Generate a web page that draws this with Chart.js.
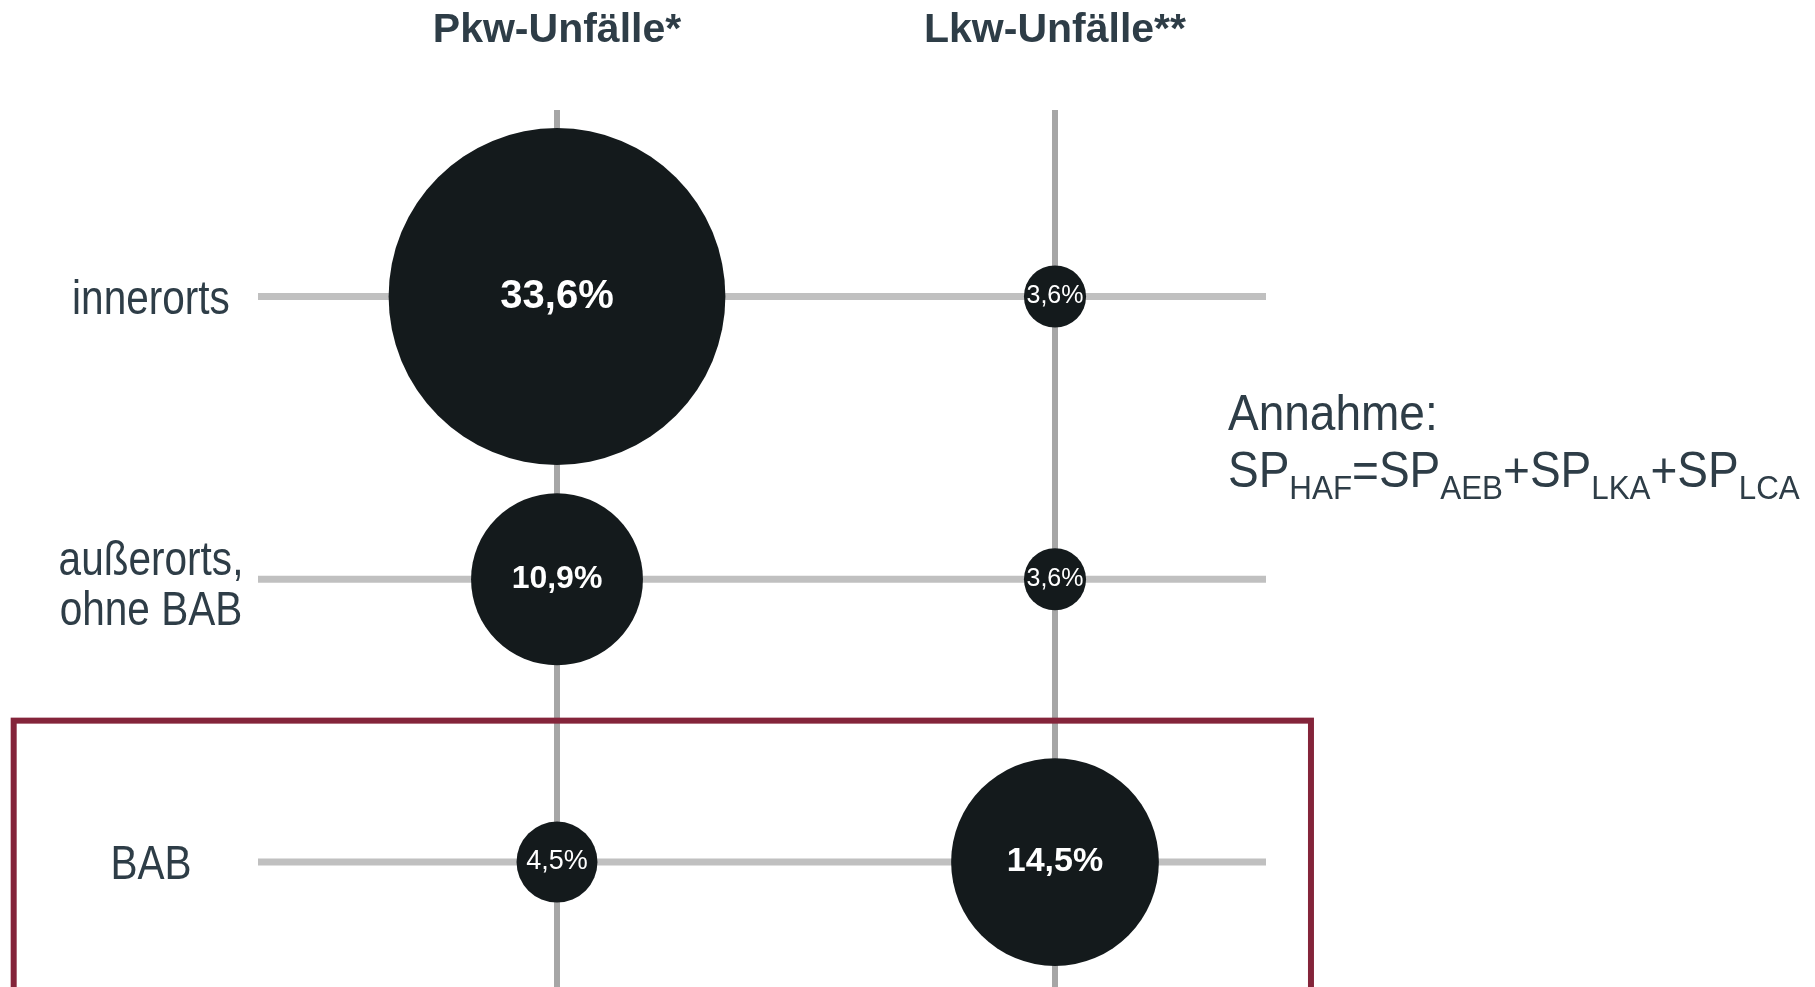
<!DOCTYPE html>
<html>
<head>
<meta charset="utf-8">
<script src="https://cdn.jsdelivr.net/npm/chart.js@4.4.1/dist/chart.umd.min.js"></script>
<style>
  html, body { margin: 0; padding: 0; background: #fff; }
  .wrap { width: 1815px; height: 987px; position: relative; }
</style>
</head>
<body>
<div class="wrap"><canvas id="bubbleChart"></canvas></div>
<script>
const columns = ['Pkw-Unfälle*', 'Lkw-Unfälle**'];
const rows = [['innerorts'], ['außerorts,', 'ohne BAB'], ['BAB']];
const pkwShares = [33.6, 10.9, 4.5];
const lkwShares = [3.6, 3.6, 14.5];
const noteTitle = 'Annahme:';
const noteFormula = [['SP', 'HAF'], ['=SP', 'AEB'], ['+SP', 'LKA'], ['+SP', 'LCA']];

const textColor = '#2e3d47';
const bubbleColor = '#141a1c';
const fontFamily = '"Liberation Sans", Arial, Helvetica, sans-serif';

// bubble size grows slower than the share, like in the original slide
const radiusFor = v => 74 * Math.pow(v, 0.35) - 84.8;
const pct = v => v.toFixed(1).replace('.', ',') + '%';

const points = [];
[pkwShares, lkwShares].forEach((shares, col) => {
    shares.forEach((v, row) => points.push({ x: col, y: row, r: radiusFor(v), v: v }));
});

function drawText(ctx, str, x, y, size, opts) {
    opts = opts || {};
    const sx = opts.sx || 1;
    ctx.save();
    ctx.font = (opts.bold ? 'bold ' : '') + size + 'px ' + fontFamily;
    ctx.fillStyle = opts.color || textColor;
    ctx.textAlign = opts.align || 'left';
    ctx.textBaseline = opts.baseline || 'alphabetic';
    ctx.translate(x, y);
    ctx.scale(sx, 1);
    ctx.fillText(str, 0, 0);
    const w = ctx.measureText(str).width * sx;
    ctx.restore();
    return w;
}

const gridLines = {
    id: 'gridLines',
    beforeDatasetsDraw(chart) {
        const { ctx, chartArea: a, scales: { x, y } } = chart;
        ctx.save();
        ctx.strokeStyle = '#c0c0c0';
        ctx.lineWidth = 7;
        rows.forEach((_, i) => {
            const py = y.getPixelForValue(i);
            ctx.beginPath();
            ctx.moveTo(a.left, py);
            ctx.lineTo(a.right, py);
            ctx.stroke();
        });
        ctx.strokeStyle = '#a6a6a6';
        ctx.lineWidth = 6;
        columns.forEach((_, i) => {
            const px = x.getPixelForValue(i);
            ctx.beginPath();
            ctx.moveTo(px, a.top);
            ctx.lineTo(px, a.bottom);
            ctx.stroke();
        });
        ctx.restore();
    }
};

const overlay = {
    id: 'overlay',
    afterDatasetsDraw(chart) {
        const { ctx, scales: { x, y } } = chart;

        // values inside the bubbles
        const meta = chart.getDatasetMeta(0);
        meta.data.forEach((el, i) => {
            const p = points[i];
            const size = Math.round(13.7 + 2.02 * Math.sqrt(p.r));
            drawText(ctx, pct(p.v), el.x, el.y, size, {
                bold: p.v >= 10, color: '#ffffff', align: 'center', baseline: 'middle'
            });
        });

        // column headers
        columns.forEach((c, i) => {
            drawText(ctx, c, x.getPixelForValue(i), 42, 41, { bold: true, align: 'center' });
        });

        // row labels
        rows.forEach((lines, i) => {
            const py = y.getPixelForValue(i);
            lines.forEach((ln, j) => {
                const off = (j - (lines.length - 1) / 2) * 50 + (lines.length > 1 ? 8 : 4);
                drawText(ctx, ln, 151, py + off, 48, { align: 'center', baseline: 'middle', sx: 0.845 });
            });
        });

        // note on the right
        drawText(ctx, noteTitle, 1228, 430, 50, { sx: 0.92 });
        let cx = 1228;
        noteFormula.forEach(([main, sub]) => {
            cx += drawText(ctx, main, cx, 487, 50, { sx: 0.92 });
            cx += drawText(ctx, sub, cx, 499, 33, { sx: 0.95 });
        });

        // highlight box around the BAB row
        const boxTop = y.getPixelForValue(1.5);
        ctx.save();
        ctx.strokeStyle = '#84243a';
        ctx.lineWidth = 6;
        ctx.strokeRect(x.getPixelForValue(-1.091), boxTop, x.getPixelForValue(1.514) - x.getPixelForValue(-1.091), 400);
        ctx.restore();
    }
};

const ctx = document.getElementById('bubbleChart').getContext('2d');
new Chart(ctx, {
    type: 'bubble',
    data: {
        datasets: [{
            data: points,
            backgroundColor: bubbleColor,
            borderWidth: 0,
            hoverBorderWidth: 0,
            clip: false
        }]
    },
    options: {
        responsive: true,
        maintainAspectRatio: false,
        animation: false,
        layout: { autoPadding: false, padding: { left: 258, right: 549, top: 110, bottom: 0 } },
        plugins: {
            legend: { display: false },
            tooltip: { enabled: false }
        },
        scales: {
            x: { type: 'linear', display: false, min: -0.6004, max: 1.4237 },
            y: { type: 'linear', display: false, reverse: true, min: -0.6596, max: 2.442 }
        }
    },
    plugins: [gridLines, overlay]
});
</script>
</body>
</html>
